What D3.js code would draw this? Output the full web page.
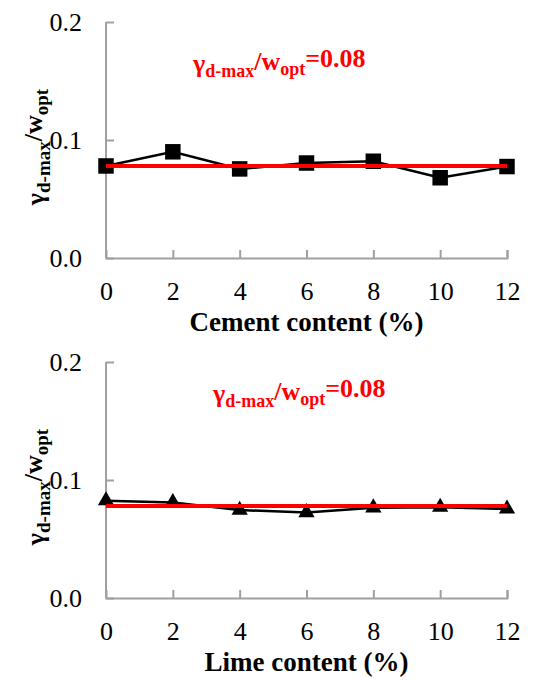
<!DOCTYPE html>
<html>
<head>
<meta charset="utf-8">
<script src="https://cdn.jsdelivr.net/npm/d3@7"></script>
<style>
  body { margin: 0; background: #fff; }
</style>
</head>
<body>
<div id="chart"></div>
<script>
// data
const content = [0, 2, 4, 6, 8, 10, 12];
const cementRatio = [0.078, 0.090, 0.0755, 0.0805, 0.082, 0.068, 0.0775];
const limeRatio = [0.0825, 0.081, 0.0745, 0.0725, 0.0765, 0.077, 0.0755];
const meanRatio = 0.078;
const yTicks = [0.0, 0.1, 0.2];
const xTicks = [0, 2, 4, 6, 8, 10, 12];
const panels = [
  { title: "Cement content (%)", values: cementRatio, marker: "square", noteX: 193, noteY: 72 },
  { title: "Lime content (%)", values: limeRatio, marker: "triangle", noteX: 213, noteY: 62 }
];

const serif = "'Liberation Serif'";
const svgWidth = 547;
const svgHeight = 680;
const panelH = 340;

const svg = d3.select("#chart")
  .append("svg")
  .attr("width", svgWidth)
  .attr("height", svgHeight);

const x = d3.scaleLinear().domain([0, 12]).range([106, 507]);
const y = d3.scaleLinear().domain([0, 0.2]).range([258, 22]);

// writes  γd-max/wopt  with subscripts into a text node
function ratioLabel(t, big, small) {
  t.append("tspan").style("font-size", big + "px").text("γ");
  t.append("tspan").style("font-size", small + "px").attr("dy", "0.3em").text("d-max");
  t.append("tspan").style("font-size", big + "px").attr("dy", "-0.3em").text("/w");
  t.append("tspan").style("font-size", small + "px").attr("dy", "0.3em").text("opt");
}

panels.forEach((p, i) => {
  const g = svg.append("g").attr("transform", `translate(0,${i * panelH})`);
  const pts = content.map((c, k) => ({ c: c, v: p.values[k] }));

  // axes
  const axisY = d3.axisLeft(y).tickValues(yTicks).tickSize(-8).tickFormat(d3.format(".1f"));
  const axisX = d3.axisBottom(x).tickValues(xTicks).tickSize(-8).tickFormat(d3.format("d"));

  const gy = g.append("g").attr("transform", `translate(${x(0)},0)`).call(axisY);
  const gx = g.append("g").attr("transform", `translate(0,${y(0)})`).call(axisX);

  [gx, gy].forEach(a => {
    a.attr("font-family", null).attr("font-size", null);
    a.select(".domain").attr("stroke", "#a0a0a0").attr("stroke-width", 2);
    a.selectAll(".tick line").attr("stroke", "#a0a0a0").attr("stroke-width", 2);
    a.selectAll(".tick text")
      .style("font-family", serif)
      .style("font-size", "26px")
      .attr("fill", "#000");
  });
  gy.select(".domain").attr("d", `M0,${y(0.2)}V${y(0)}`);
  gy.selectAll(".tick text").attr("x", -24).attr("dy", "0.34em");
  gx.selectAll(".tick text").attr("y", 24).attr("dy", "0.71em");
  gx.selectAll(".tick").filter(d => d === 0).select("line").remove();

  // series line
  const line = d3.line().x(d => x(d.c)).y(d => y(d.v));
  g.append("path")
    .datum(pts)
    .attr("fill", "none")
    .attr("stroke", "#000")
    .attr("stroke-width", 2.5)
    .attr("d", line);

  // markers
  const sym = p.marker === "square" ? d3.symbolSquare : d3.symbolTriangle;
  const size = p.marker === "square" ? 240 : 115;
  g.selectAll(".marker")
    .data(pts)
    .enter()
    .append("path")
    .attr("transform", d => `translate(${x(d.c)},${y(d.v)})`)
    .attr("d", d3.symbol().type(sym).size(size))
    .attr("fill", "#000");

  // mean line
  g.append("line")
    .attr("x1", x(0)).attr("x2", x(12))
    .attr("y1", y(meanRatio)).attr("y2", y(meanRatio))
    .attr("stroke", "#ff0000")
    .attr("stroke-width", 4);

  // annotation
  const note = g.append("text")
    .attr("x", p.noteX)
    .attr("y", p.noteY)
    .attr("fill", "#ff0000")
    .style("font-family", serif)
    .style("font-weight", "bold");
  ratioLabel(note, 26, 18);
  note.append("tspan").style("font-size", "26px").attr("dy", "-0.3em").text("=0.08");

  // x title
  g.append("text")
    .attr("x", (x(0) + x(12)) / 2)
    .attr("y", 331)
    .attr("text-anchor", "middle")
    .style("font-family", serif)
    .style("font-weight", "bold")
    .style("font-size", "27px")
    .text(p.title);

  // y title
  const yt = g.append("text")
    .attr("transform", "translate(44,147) rotate(-90)")
    .attr("text-anchor", "middle")
    .style("font-family", serif)
    .style("font-weight", "bold");
  ratioLabel(yt, 26, 19);
});
</script>
</body>
</html>
